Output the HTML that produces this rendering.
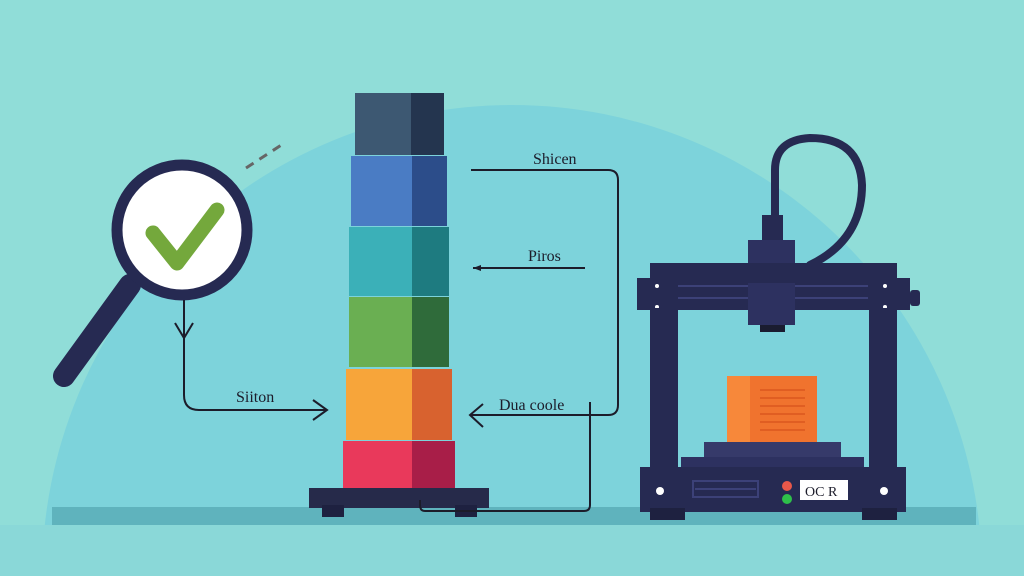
<!DOCTYPE html>
<html style="width:1024px;height:576px;overflow:hidden;margin:0;padding:0;"><head><style>
html,body{margin:0;padding:0;overflow:hidden;width:1024px;height:576px;}
body{position:relative;background:#8fdcd8;}
svg{display:block;position:absolute;left:0;top:0;}
text{font-family:"Liberation Serif",serif;fill:#1c1c2a;}
</style></head><body>
<svg width="1024" height="576" viewBox="0 0 1024 576" xmlns="http://www.w3.org/2000/svg" overflow="hidden">
<rect width="1024" height="576" fill="#90ddd8"/>
<path d="M42 576 A470 471 0 0 1 982 576 Z" fill="#7dd3db"/>
<rect x="0" y="525" width="1024" height="51" fill="#8ad8d8"/>
<rect x="52" y="507" width="924" height="18" fill="#5fb3bd"/>

<line x1="130" y1="285" x2="64" y2="376" stroke="#262a52" stroke-width="22" stroke-linecap="round"/>
<circle cx="182" cy="230" r="65" fill="#fff" stroke="#262a52" stroke-width="11"/>
<polyline points="153,233 177,263 217,210" fill="none" stroke="#74a83c" stroke-width="15" stroke-linecap="round" stroke-linejoin="round"/>
<line x1="246" y1="168" x2="286" y2="142" stroke="#666" stroke-width="3" stroke-dasharray="9,7"/>

<path d="M184 300 V395 Q184 410 199 410 H327" fill="none" stroke="#1c1c2a" stroke-width="2"/>
<polyline points="175,323 184,338 193,323" fill="none" stroke="#1c1c2a" stroke-width="2"/>
<polyline points="313,400 327,410 313,420" fill="none" stroke="#1c1c2a" stroke-width="2"/>
<text x="236" y="402" font-size="16">Siiton</text>

<rect x="355" y="93" width="56" height="62" fill="#3d5872"/><rect x="411" y="93" width="33" height="62" fill="#24354f"/>
<rect x="351" y="156" width="61" height="70" fill="#4a7cc4"/><rect x="412" y="156" width="35" height="70" fill="#2c4d8a"/>
<rect x="349" y="227" width="63" height="69" fill="#3bb0b8"/><rect x="412" y="227" width="37" height="69" fill="#1e7b80"/>
<rect x="349" y="297" width="63" height="70" fill="#6aaf52"/><rect x="412" y="297" width="37" height="70" fill="#2f6b3a"/>
<rect x="346" y="369" width="66" height="71" fill="#f7a53a"/><rect x="412" y="369" width="40" height="71" fill="#d8622f"/>
<rect x="343" y="441" width="69" height="48" fill="#e9395b"/><rect x="412" y="441" width="43" height="48" fill="#a81e48"/>
<rect x="309" y="488" width="180" height="20" fill="#262a4a"/>
<rect x="322" y="505" width="22" height="12" fill="#1e2140"/><rect x="455" y="505" width="22" height="12" fill="#1e2140"/>

<path d="M471 170 H608 Q618 170 618 180 V405 Q618 415 608 415 H470" fill="none" stroke="#1c1c2a" stroke-width="2"/>
<polyline points="483,404 470,415 483,427" fill="none" stroke="#1c1c2a" stroke-width="2"/>
<text x="533" y="164" font-size="16">Shicen</text>
<line x1="473" y1="268" x2="585" y2="268" stroke="#1c1c2a" stroke-width="2"/>
<polygon points="473,268 481,265 481,271" fill="#1c1c2a"/>
<text x="528" y="261" font-size="16">Piros</text>
<text x="499" y="410" font-size="16">Dua coole</text>
<path d="M590 402 V505 Q590 511 584 511 H425 Q420 511 420 505 V500" fill="none" stroke="#1c1c2a" stroke-width="2"/>

<path d="M775 216 V170 Q775 140 810 138 Q860 138 862 185 Q862 240 810 265" fill="none" stroke="#262a52" stroke-width="8" stroke-linecap="round"/>
<rect x="762" y="215" width="21" height="27" fill="#262a52"/>
<rect x="748" y="240" width="47" height="24" fill="#2d3160"/>
<rect x="650" y="263" width="247" height="21" fill="#262a52"/>
<rect x="637" y="278" width="273" height="32" fill="#262a52"/>
<rect x="910" y="290" width="10" height="16" rx="3" fill="#262a52"/>
<line x1="678" y1="286" x2="868" y2="286" stroke="#3c4178" stroke-width="2"/>
<line x1="678" y1="298" x2="868" y2="298" stroke="#3c4178" stroke-width="2"/>
<circle cx="657" cy="286" r="2" fill="#fff"/><circle cx="657" cy="307" r="2" fill="#fff"/>
<circle cx="885" cy="286" r="2" fill="#fff"/><circle cx="885" cy="307" r="2" fill="#fff"/>
<rect x="748" y="283" width="47" height="42" fill="#2d3160"/>
<rect x="760" y="325" width="25" height="7" fill="#1a1c30"/>
<rect x="650" y="308" width="28" height="165" fill="#262a52"/>
<rect x="869" y="308" width="28" height="165" fill="#262a52"/>
<rect x="727" y="376" width="23" height="66" fill="#f7883a"/>
<rect x="750" y="376" width="67" height="66" fill="#f0732e"/>
<g stroke="#e05e22" stroke-width="2"><line x1="760" y1="390" x2="805" y2="390"/><line x1="760" y1="398" x2="805" y2="398"/><line x1="760" y1="406" x2="805" y2="406"/><line x1="760" y1="414" x2="805" y2="414"/><line x1="760" y1="422" x2="805" y2="422"/><line x1="760" y1="430" x2="805" y2="430"/></g>
<rect x="704" y="442" width="137" height="16" fill="#363a6a"/>
<rect x="681" y="457" width="183" height="11" fill="#2d3160"/>
<rect x="640" y="467" width="266" height="45" fill="#262a52"/>
<rect x="650" y="508" width="35" height="12" fill="#1e2140"/><rect x="862" y="508" width="35" height="12" fill="#1e2140"/>
<rect x="693" y="481" width="65" height="16" fill="none" stroke="#3c4178" stroke-width="2"/>
<line x1="695" y1="489" x2="756" y2="489" stroke="#3c4178" stroke-width="2"/>
<circle cx="660" cy="491" r="4" fill="#fff"/><circle cx="884" cy="491" r="4" fill="#fff"/>
<circle cx="787" cy="486" r="5" fill="#e8584a"/><circle cx="787" cy="499" r="5" fill="#2ec04a"/>
<rect x="800" y="480" width="48" height="20" fill="#fff"/>
<text x="805" y="496" font-size="14" font-family="Liberation Sans">OC R</text>
</svg>
</body></html>
